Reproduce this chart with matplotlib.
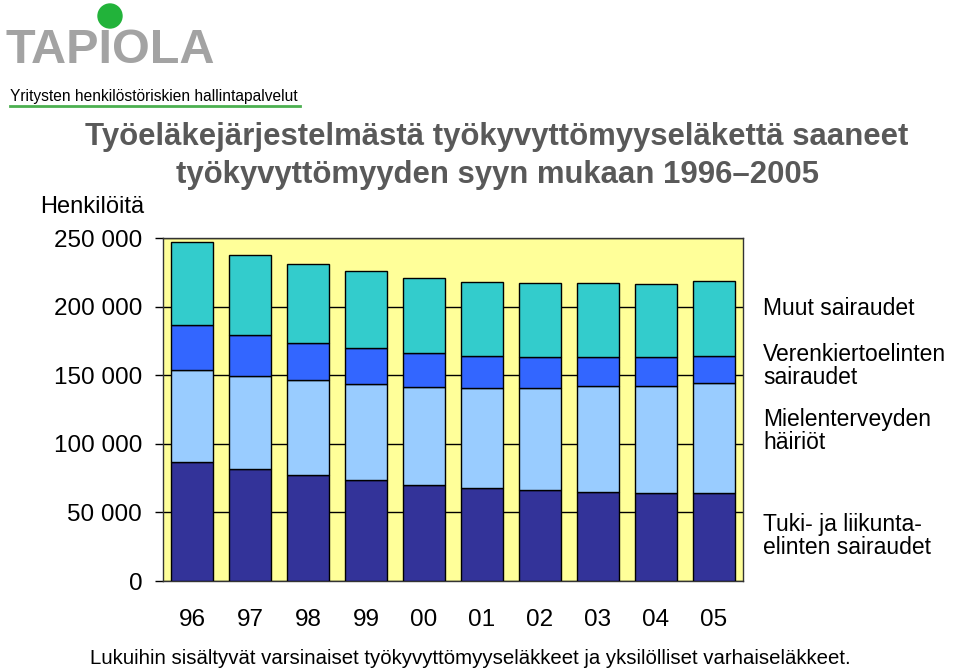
import matplotlib
matplotlib.use("Agg")
import matplotlib.pyplot as plt
from matplotlib.patches import Circle
import numpy as np

plt.rcParams['font.family'] = ['Liberation Sans', 'DejaVu Sans']

years = ["96", "97", "98", "99", "00", "01", "02", "03", "04", "05"]
tuki = [86500, 81900, 77300, 73400, 70000, 67800, 66100, 64600, 63900, 63900]
mielenterveys = [67300, 67500, 69000, 70200, 71400, 72600, 74300, 77800, 78500, 80400]
verenkierto = [32600, 29900, 27000, 26000, 24800, 23600, 22900, 20900, 20900, 19700]
muut = [60500, 58300, 57500, 56400, 54900, 54200, 54200, 54200, 53400, 54900]

series = [tuki, mielenterveys, verenkierto, muut]
colors = ["#333399", "#99CCFF", "#3366FF", "#33CCCC"]
yticks = [0, 50000, 100000, 150000, 200000, 250000]
ytick_labels = ["0", "50 000", "100 000", "150 000", "200 000", "250 000"]

W, H = 959, 671
fig = plt.figure(figsize=(W / 100, H / 100), dpi=100)

ax = fig.add_axes([163 / W, 1 - 581 / H, (743 - 163) / W, (581 - 238) / H])
ax.set_facecolor("#FFFF99")
x = np.arange(len(years))
bottom = np.zeros(len(years))
for vals, c in zip(series, colors):
    ax.bar(x, vals, width=0.72, bottom=bottom, color=c, edgecolor="black",
           linewidth=1.0, zorder=3)
    bottom += np.array(vals)

ax.set_xlim(-0.5, len(years) - 0.5)
ax.set_ylim(0, 250000)
ax.set_yticks(yticks)
ax.set_yticklabels(ytick_labels, fontsize=17.5)
ax.yaxis.grid(True, color="black", linewidth=1.0, zorder=1)
ax.set_axisbelow(True)
ax.tick_params(axis='y', length=6, width=1, direction='out', pad=9, colors='black')
ax.set_xticks(x)
ax.set_xticklabels(years, fontsize=17.5)
ax.tick_params(axis='x', length=0, pad=20)
for sp in ax.spines.values():
    sp.set_color("#333333")
    sp.set_linewidth(1.0)

# Logo
fig.text(5 / W, 1 - 63 / H, "TAPIOLA", fontsize=35, fontweight="bold",
         color="#A3A3A3", ha="left", va="baseline")
logo_ax = fig.add_axes([0, 0, 1, 1], facecolor="none")
logo_ax.set_xlim(0, W)
logo_ax.set_ylim(H, 0)
logo_ax.axis("off")
logo_ax.add_patch(Circle((110, 16), 12, color="#22B33A"))
logo_ax.plot([10, 300], [106, 106], color="#4CB050", linewidth=2)

fig.text(10 / W, 1 - 96 / H, "Yritysten henkilöstöriskien hallintapalvelut",
         fontsize=11.2, color="black", ha="left", va="center")

fig.text(497 / W, 1 - 137 / H, "Työeläkejärjestelmästä työkyvyttömyyseläkettä saaneet",
         fontsize=22.4, fontweight="bold", color="#595959", ha="center", va="center")
fig.text(497 / W, 1 - 175 / H, "työkyvyttömyyden syyn mukaan 1996\u20132005",
         fontsize=22.4, fontweight="bold", color="#595959", ha="center", va="center")

fig.text(40 / W, 1 - 207 / H, "Henkilöitä", fontsize=17, color="black",
         ha="left", va="center")

legend_items = [
    (309, "Muut sairaudet"),
    (366, "Verenkiertoelinten\nsairaudet"),
    (431, "Mielenterveyden\nhäiriöt"),
    (536, "Tuki- ja liikunta-\nelinten sairaudet"),
]
for yy, txt in legend_items:
    fig.text(763 / W, 1 - yy / H, txt, fontsize=16.5, color="black",
             ha="left", va="center", linespacing=1.0)

fig.text(470 / W, 1 - 659 / H,
         "Lukuihin sisältyvät varsinaiset työkyvyttömyyseläkkeet ja yksilölliset varhaiseläkkeet.",
         fontsize=14.7, color="black", ha="center", va="center")

fig.savefig("out.png", dpi=100)
